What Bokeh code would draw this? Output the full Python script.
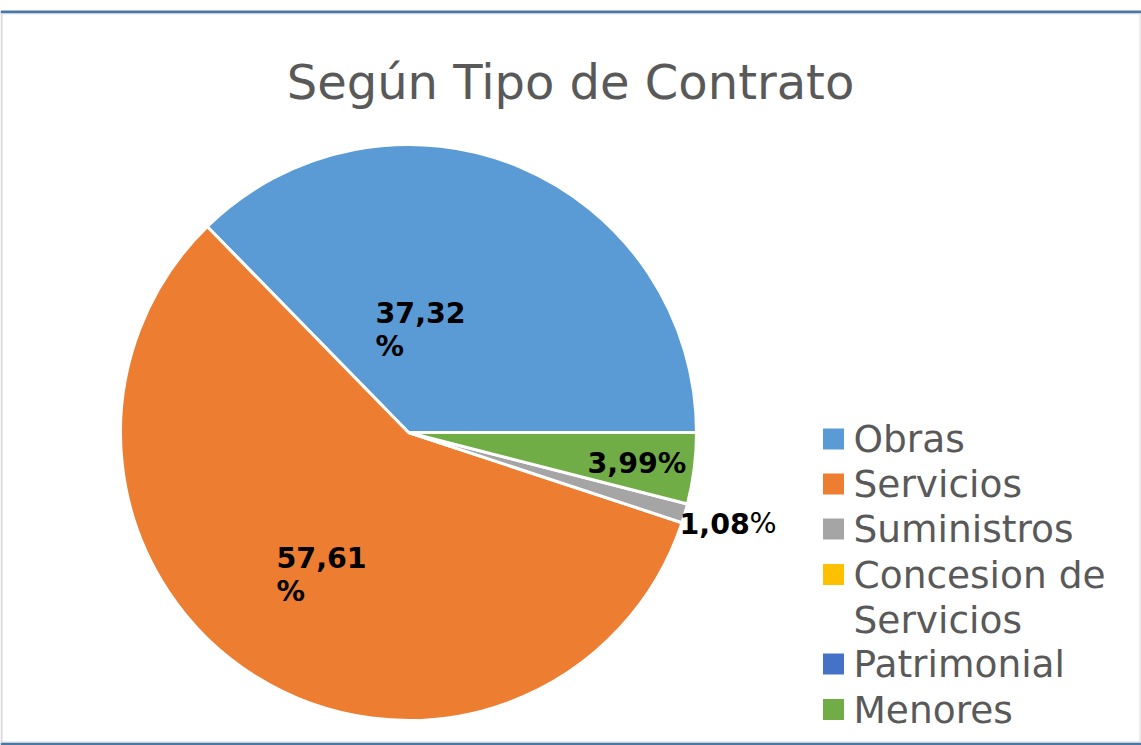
import numpy as np
from bokeh.plotting import figure
from bokeh.models import Range1d, ColumnDataSource
from bokeh.core.properties import value
from bokeh.embed import file_html
from bokeh.resources import INLINE

W, H = 1141, 745

title = "Según Tipo de Contrato"
categories = ["Obras", "Servicios", "Suministros", "Concesion de\nServicios", "Patrimonial", "Menores"]
values = [37.32, 57.61, 1.08, 0.0, 0.0, 3.99]
colors = ["#5B9BD5", "#ED7D31", "#A5A5A5", "#FFC000", "#4472C4", "#70AD47"]

p = figure(width=W, height=H, x_range=Range1d(0, W), y_range=Range1d(0, H),
           min_border=0, toolbar_location=None, output_backend="svg",
           x_axis_type=None, y_axis_type=None)
p.grid.visible = False
p.outline_line_color = None
p.background_fill_color = "white"
p.border_fill_color = "white"

# frame borders
p.quad(left=[0], right=[W], bottom=[H - 13], top=[H - 10], fill_color="#4A77A5", line_color=None)
p.quad(left=[0], right=[W], bottom=[H - 14], top=[H - 13], fill_color="#E4E8EC", line_color=None)
p.quad(left=[0], right=[W], bottom=[0], top=[3], fill_color="#4A77A5", line_color=None)
p.quad(left=[0], right=[W], bottom=[3], top=[4], fill_color="#DDDDDD", line_color=None)
p.quad(left=[0], right=[2], bottom=[3], top=[H - 13], fill_color="#D9D9D9", line_color=None)
p.quad(left=[W - 2], right=[W - 1], bottom=[3], top=[H - 13], fill_color="#D9D9D9", line_color=None)

# pie (zero slices are skipped so they do not draw as full circles)
cx, cy, r = 408, H - 432, 288
vals = np.array(values)
frac = vals / vals.sum()
ends = np.cumsum(frac) * 2 * np.pi
starts = ends - frac * 2 * np.pi
keep = vals > 0
src = ColumnDataSource(dict(start=starts[keep], end=ends[keep],
                            color=[c for c, k in zip(colors, keep) if k]))
p.wedge(x=cx, y=cy, radius=r, start_angle="start", end_angle="end", direction="anticlock",
        fill_color="color", line_color="white", line_width=3, source=src)

# title
p.text(x=[570], y=[H - 81], text=[title], text_font=value("DejaVu Sans"), text_font_size="48px",
       text_color="#595959", text_align="center", text_baseline="alphabetic")

def fmt(v):
    return ("%.2f" % v).replace(".", ",")

lf = value("DejaVu Sans")
lbl_kw = dict(text_font=lf, text_font_size="28.5px", text_font_style="bold", text_color="black",
              text_align="left", text_baseline="alphabetic")
off = 11
# Obras
p.text(x=[375], y=[H - 323 + off], text=[fmt(values[0])], **lbl_kw)
p.text(x=[375], y=[H - 357 + off], text=["%"], **lbl_kw)
# Servicios
p.text(x=[276], y=[H - 568 + off], text=[fmt(values[1])], **lbl_kw)
p.text(x=[276], y=[H - 602 + off], text=["%"], **lbl_kw)
# Menores
p.text(x=[587], y=[H - 474 + off], text=[fmt(values[5]) + "%"], **lbl_kw)
# Suministros
p.text(x=[679], y=[H - 534 + off], text=[fmt(values[2])], **lbl_kw)
p.text(x=[749], y=[H - 534 + off], text=["%"], text_font=lf, text_font_size="28.5px", text_color="black",
       text_align="left", text_baseline="alphabetic")

# legend
centers = [438.5, 483.5, 528.5, 574.0, 663.5, 709.0]
p.rect(x=[833] * 6, y=[H - c for c in centers], width=21, height=21, fill_color=colors, line_color=None)
for c, lab in zip(centers, categories):
    lines = lab.split("\n")
    for i, ln in enumerate(lines):
        p.text(x=[853], y=[H - (c + 13 + i * 45) + 13], text=[ln], text_font=lf, text_font_size="37.5px",
               text_color="#595959", text_align="left", text_baseline="alphabetic")

open("out.html", "w").write(file_html(p, INLINE))
